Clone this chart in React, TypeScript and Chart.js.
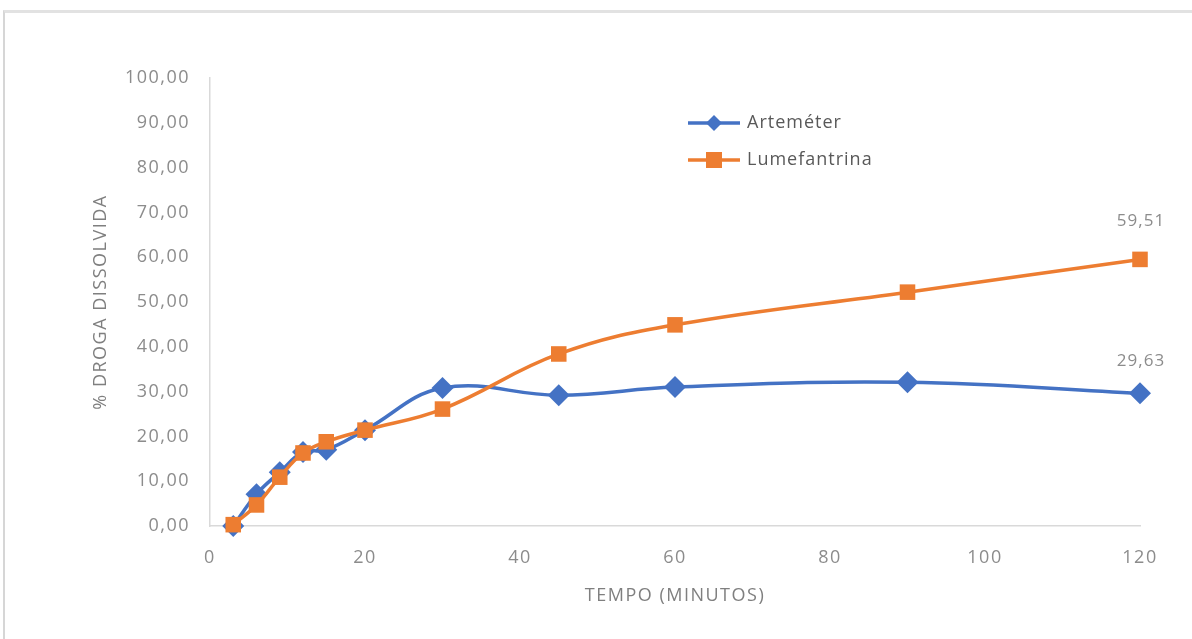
import React, { useEffect, useRef } from "react";
import { Chart, registerables } from "chart.js";

Chart.register(...registerables);

const tempos = [3, 6, 9, 12, 15, 20, 30, 45, 60, 90, 120];
const artemeter = [0.0, 7.1, 12.0, 16.5, 17.0, 21.4, 30.8, 29.2, 31.0, 32.1, 29.63];
const lumefantrina = [0.3, 4.7, 10.9, 16.3, 18.8, 21.4, 26.1, 38.4, 44.9, 52.2, 59.51];
const seriesNames = ["Arteméter", "Lumefantrina"];
const xTitle = "TEMPO (MINUTOS)";
const yTitle = "% DROGA DISSOLVIDA";

const BLUE = "#4472C4";
const ORANGE = "#ED7D31";
const FONT = "'Open Sans', sans-serif";
const fmt = (v: number) => v.toFixed(2).replace(".", ",");

const spacingPlugin = {
  id: "spacing",
  beforeUpdate(chart: any) {
    chart.ctx.letterSpacing = "1.5px";
  },
  beforeDraw(chart: any) {
    chart.ctx.letterSpacing = "1.5px";
  },
};

const overlayPlugin = {
  id: "overlay",
  afterDatasetsDraw(chart: any) {
    const ctx = chart.ctx;
    ctx.save();
    ctx.letterSpacing = "1px";
    // data labels on the last points
    ctx.font = `17px ${FONT}`;
    ctx.fillStyle = "#8c8c8c";
    ctx.textAlign = "center";
    ctx.textBaseline = "middle";
    const offsets = [32, 38];
    chart.data.datasets.forEach((ds: any, i: number) => {
      const meta = chart.getDatasetMeta(i);
      const last = meta.data[meta.data.length - 1];
      const v = ds.data[ds.data.length - 1].y;
      ctx.fillText(fmt(v), last.x + 1, last.y - offsets[i]);
    });
    // legend inside plot
    const lx = 688;
    const rows = [123, 160];
    chart.data.datasets.forEach((ds: any, i: number) => {
      const y = rows[i];
      ctx.strokeStyle = ds.borderColor;
      ctx.lineWidth = 3.5;
      ctx.beginPath();
      ctx.moveTo(lx, y);
      ctx.lineTo(lx + 52, y);
      ctx.stroke();
      ctx.fillStyle = ds.borderColor;
      const cx = lx + 26;
      if (i === 0) {
        const s = 8;
        ctx.beginPath();
        ctx.moveTo(cx - s, y);
        ctx.lineTo(cx, y - s);
        ctx.lineTo(cx + s, y);
        ctx.lineTo(cx, y + s);
        ctx.closePath();
        ctx.fill();
      } else {
        const s = 8;
        ctx.fillRect(cx - s, y - s, 2 * s, 2 * s);
      }
      ctx.fillStyle = "#595959";
      ctx.font = `18px ${FONT}`;
      ctx.textAlign = "left";
      ctx.textBaseline = "middle";
      ctx.fillText(ds.label, lx + 59, y);
    });
    ctx.restore();
  },
};

export default function App() {
  const ref = useRef<HTMLCanvasElement>(null);
  useEffect(() => {
    if (!ref.current) return;
    const chart = new Chart(ref.current, {
      type: "line",
      data: {
        datasets: [
          {
            label: seriesNames[0],
            data: tempos.map((t, i) => ({ x: t, y: artemeter[i] })),
            borderColor: BLUE,
            backgroundColor: BLUE,
            borderWidth: 3.5,
            pointStyle: "rectRot",
            pointRadius: 11,
            pointHoverRadius: 11,
            pointBorderWidth: 0,
            tension: 0.4,
            clip: false,
            order: 1,
          },
          {
            label: seriesNames[1],
            data: tempos.map((t, i) => ({ x: t, y: lumefantrina[i] })),
            borderColor: ORANGE,
            backgroundColor: ORANGE,
            borderWidth: 3.5,
            pointStyle: "rect",
            pointRadius: 11,
            pointHoverRadius: 11,
            pointBorderWidth: 0,
            tension: 0.4,
            clip: false,
            order: 0,
          },
        ],
      },
      options: {
        animation: false,
        responsive: false,
        maintainAspectRatio: false,
        layout: { padding: { left: 86, top: 78, right: 52, bottom: 28 } },
        plugins: { legend: { display: false }, tooltip: { enabled: false } },
        scales: {
          x: {
            type: "linear",
            min: 0,
            max: 120,
            ticks: { stepSize: 20, color: "#8c8c8c", font: { family: FONT, size: 18 }, padding: 21 },
            grid: { drawOnChartArea: false, drawTicks: false },
            border: { display: true, color: "#d9d9d9", width: 1.5 },
            title: { display: true, text: xTitle, color: "#7f7f7f", font: { family: FONT, size: 18 }, padding: 4 },
            afterFit: (s: any) => { s.height = 85; },
          },
          y: {
            min: 0,
            max: 100,
            ticks: { stepSize: 10, color: "#8c8c8c", font: { family: FONT, size: 18 }, padding: 20, callback: (v: any) => fmt(Number(v)) },
            grid: { drawOnChartArea: false, drawTicks: false },
            border: { display: true, color: "#d9d9d9", width: 1.5 },
            title: { display: true, text: yTitle, color: "#7f7f7f", font: { family: FONT, size: 18 }, padding: 4 },
            afterFit: (s: any) => { s.width = 124; },
          },
        },
      },
      plugins: [spacingPlugin, overlayPlugin],
    });
    return () => chart.destroy();
  }, []);
  return (
    <div style={{ position: "fixed", left: 0, top: 0, width: 1192, height: 639, overflow: "hidden", background: "#fff" }}>
      <div style={{ position: "absolute", left: 3, top: 10, width: 1300, height: 800, borderTop: "3px solid #e2e2e2", borderLeft: "2px solid #d6d6d6" }} />
      <canvas ref={ref} width={1192} height={639} style={{ position: "absolute", left: 0, top: 0, width: 1192, height: 639 }} />
    </div>
  );
}
